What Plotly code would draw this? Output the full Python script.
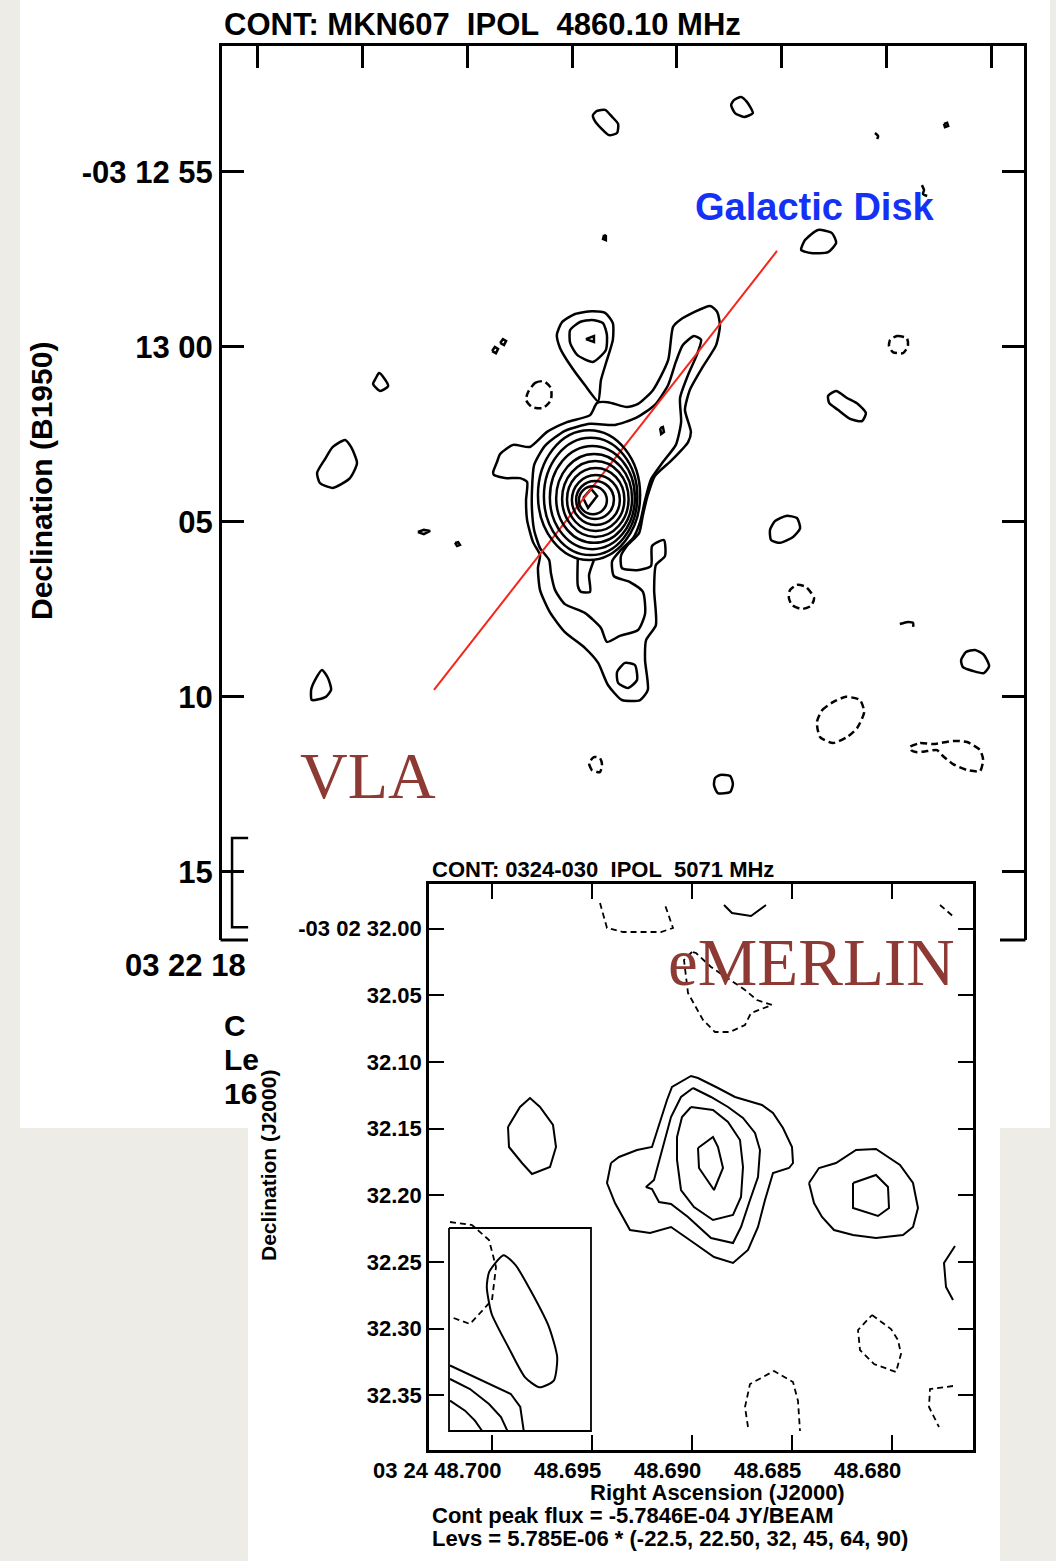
import plotly.graph_objects as go

W, H = 1056, 1561

# ================= Panel 1 : VLA MKN607 (offsets from core, arcsec; x = west, y = south) =================
vla_xticks = [-9.44, -6.447, -3.452, -0.457, 2.538, 5.533, 8.528, 11.523]
vla_yticks = [-9.29, -4.29, 0.71, 5.71, 10.71]
vla_yticktext = ["-03 12 55", "13 00", "05", "10", "15"]

# core rings (extent of each closed contour)
vla_ring_left = [-1.43, -1.26, -1.09, -0.91, -0.74, -0.60, -0.46, -0.34, -0.26]
vla_ring_right = [1.49, 1.41, 1.34, 1.26, 1.16, 1.04, 0.91, 0.74, 0.54]
vla_ring_top = [-1.91, -1.69, -1.46, -1.23, -1.03, -0.83, -0.63, -0.46, -0.31]
vla_ring_bottom = [1.80, 1.66, 1.49, 1.31, 1.14, 0.97, 0.80, 0.63, 0.49]

vla_main1_x = [-2.71, -2.60, -2.51, -2.14, -1.66, -1.17, -0.60, 0.06, 0.26, 0.57, 1.11, 1.43, 1.86, 2.29, 2.43, 2.63,
               3.49, 3.69, 3.77, 3.66, 3.26, 2.91, 2.77, 2.94, 2.86, 2.40, 1.91, 1.71, 1.57, 1.46, 1.11, 0.94, 0.97,
               1.40, 1.80, 1.83, 2.17, 2.20, 1.94, 1.89, 1.94, 1.66, 1.63, 1.71, 1.49, 0.97, 0.57, 0.29, -0.09, -0.66,
               -1.09, -1.37, -1.43, -1.37, -1.57, -1.74, -1.77, -1.74, -1.94, -2.37, -2.69]
vla_main1_y = [-0.71, -1.00, -1.23, -1.49, -1.43, -1.86, -2.14, -2.34, -2.69, -2.71, -2.57, -2.66, -3.06, -3.91, -4.86,
               -5.06, -5.46, -5.29, -4.91, -4.34, -3.69, -3.06, -2.49, -1.86, -1.57, -1.06, -0.60, -0.06, 0.51, 1.03,
               1.40, 1.69, 2.03, 2.09, 1.97, 1.40, 1.23, 1.69, 1.94, 2.66, 3.66, 4.09, 4.66, 5.51, 5.80, 5.80, 5.37,
               4.74, 4.31, 3.86, 3.29, 2.66, 2.03, 1.66, 1.29, 0.66, 0.09, -0.43, -0.54, -0.54, -0.63]

vla_main2_x = [-1.60, -1.54, -1.23, -0.66, 0.06, 0.77, 1.37, 1.91, 2.29, 2.51, 2.71, 3.03, 3.23, 3.11, 2.86, 2.63, 2.66,
               2.51, 2.14, 1.80, 1.63, 1.49, 1.29, 0.94, 0.69, 0.74, 1.20, 1.57, 1.63, 1.43, 0.91, 0.54, 0.37, -0.09,
               -0.66, -0.94, -1.06, -1.11, -1.37, -1.54, -1.60]
vla_main2_y = [-0.20, -0.91, -1.46, -1.89, -2.09, -2.06, -2.26, -2.63, -3.20, -3.86, -4.34, -4.60, -4.49, -4.06, -3.49,
               -2.83, -2.14, -1.49, -1.00, -0.51, 0.09, 0.71, 1.17, 1.51, 1.83, 2.26, 2.43, 2.71, 3.34, 3.80, 3.97,
               4.14, 3.74, 3.31, 3.06, 2.66, 2.17, 1.80, 1.46, 0.94, 0.37]

vla_peak_x = [-0.14, 0.09, 0.26, 0.00]
vla_peak_y = [0.03, -0.23, -0.03, 0.31]
vla_tongue_x = [-0.29, -0.29, -0.20, 0.06, 0.03, 0.17]
vla_tongue_y = [1.74, 2.54, 2.71, 2.71, 2.23, 1.80]
vla_south_x = [0.83, 1.06, 1.34, 1.40, 1.14, 0.86]
vla_south_y = [5.00, 4.74, 4.80, 5.23, 5.46, 5.31]

vla_north_outer_x = [0.29, -0.09, -0.51, -0.80, -0.89, -0.74, -0.37, 0.11, 0.49, 0.71, 0.71, 0.54, 0.37]
vla_north_outer_y = [-2.74, -3.20, -3.77, -4.26, -4.63, -5.00, -5.23, -5.31, -5.26, -4.97, -4.49, -3.91, -3.34]
vla_north_inner_x = [-0.51, -0.23, 0.11, 0.43, 0.54, 0.51, 0.14, -0.31, -0.51]
vla_north_inner_y = [-4.77, -5.00, -5.06, -4.97, -4.63, -4.20, -3.86, -4.06, -4.40]
vla_north_peak_x = [-0.06, 0.17, 0.17]
vla_north_peak_y = [-4.51, -4.60, -4.43]

# isolated positive contours
vla_blob_a_x = [0.14, 0.26, 0.49, 0.69, 0.86, 0.83, 0.60, 0.37, 0.20]
vla_blob_a_y = [-10.91, -11.03, -11.06, -10.86, -10.66, -10.40, -10.34, -10.54, -10.74]
vla_blob_b_x = [4.09, 4.17, 4.37, 4.54, 4.71, 4.46, 4.20]
vla_blob_b_y = [-11.20, -11.34, -11.43, -11.29, -10.97, -10.86, -10.97]
vla_dot_d_x = [10.17, 10.26, 10.29, 10.20]
vla_dot_d_y = [-10.66, -10.69, -10.60, -10.57]
vla_dot_f_x = [0.46, 0.51, 0.51, 0.43]
vla_dot_f_y = [-7.49, -7.46, -7.34, -7.37]
vla_blob_g_x = [6.09, 6.20, 6.57, 6.97, 7.09, 6.86, 6.37]
vla_blob_g_y = [-7.06, -7.34, -7.63, -7.54, -7.26, -7.00, -6.97]
vla_pair1_x = [-2.74, -2.66, -2.57, -2.63]
vla_pair1_y = [-4.17, -4.29, -4.23, -4.11]
vla_pair2_x = [-2.51, -2.43, -2.34, -2.40]
vla_pair2_y = [-4.40, -4.51, -4.46, -4.34]
vla_blob_k_x = [-5.97, -5.83, -5.71, -5.94, -6.14, -6.06]
vla_blob_k_y = [-3.54, -3.40, -3.17, -3.03, -3.23, -3.40]
vla_blob_m_x = [6.86, 7.09, 7.40, 7.71, 7.94, 7.83, 7.49, 7.14, 6.89]
vla_blob_m_y = [-2.89, -3.03, -2.83, -2.66, -2.40, -2.17, -2.23, -2.49, -2.69]
vla_blob_n_x = [-6.94, -6.77, -6.60, -6.80, -7.29, -7.66, -7.74, -7.51, -7.29]
vla_blob_n_y = [-1.63, -1.43, -0.97, -0.54, -0.26, -0.40, -0.69, -1.09, -1.43]
vla_dash_o_x = [-4.86, -4.69, -4.51, -4.69]
vla_dash_o_y = [1.00, 0.94, 0.97, 1.06]
vla_dot_p_x = [-3.80, -3.71, -3.66, -3.74]
vla_dot_p_y = [1.31, 1.29, 1.37, 1.40]
vla_dot_q_x = [2.06, 2.14, 2.17, 2.09]
vla_dot_q_y = [-1.97, -2.00, -1.86, -1.80]
vla_blob_r_x = [5.20, 5.34, 5.66, 5.97, 6.06, 5.86, 5.49, 5.23]
vla_blob_r_y = [0.94, 0.69, 0.54, 0.60, 0.89, 1.14, 1.31, 1.23]
vla_blob_u_x = [10.66, 10.80, 11.06, 11.31, 11.46, 11.31, 11.00, 10.71]
vla_blob_u_y = [4.66, 4.43, 4.37, 4.51, 4.83, 5.03, 4.97, 4.86]
vla_blob_v_x = [-7.91, -7.80, -7.60, -7.43, -7.34, -7.49, -7.89]
vla_blob_v_y = [5.51, 5.23, 4.94, 5.17, 5.51, 5.71, 5.80]
vla_blob_y_x = [3.63, 3.77, 4.06, 4.14, 4.06, 3.71, 3.60]
vla_blob_y_y = [8.03, 7.94, 7.97, 8.20, 8.43, 8.46, 8.23]
# open fragments
vla_mark_c_x = [8.20, 8.29, 8.26]
vla_mark_c_y = [-10.40, -10.31, -10.23]
vla_hook_e_x = [9.54, 9.60, 9.57, 9.69]
vla_hook_e_y = [-8.91, -8.77, -8.66, -8.60]
vla_hook_t_x = [8.91, 9.14, 9.29, 9.29]
vla_hook_t_y = [3.63, 3.57, 3.60, 3.71]
# negative contours (dashed)
vla_neg_j_x = [8.63, 8.83, 9.11, 9.14, 9.00, 8.71, 8.60]
vla_neg_j_y = [-4.49, -4.60, -4.54, -4.31, -4.11, -4.14, -4.31]
vla_neg_l_x = [-1.71, -1.51, -1.26, -1.06, -1.06, -1.29, -1.60, -1.77]
vla_neg_l_y = [-3.00, -3.26, -3.31, -3.11, -2.77, -2.54, -2.57, -2.77]
vla_neg_s_x = [5.77, 5.97, 6.23, 6.46, 6.37, 6.11, 5.83, 5.74]
vla_neg_s_y = [2.66, 2.51, 2.57, 2.89, 3.11, 3.20, 3.09, 2.89]
vla_neg_w_x = [6.54, 6.69, 7.00, 7.37, 7.77, 7.89, 7.69, 7.40, 7.00, 6.63]
vla_neg_w_y = [6.43, 6.09, 5.86, 5.71, 5.80, 6.14, 6.60, 6.86, 7.03, 6.86]
vla_neg_x_x = [0.34, 0.11, 0.03, 0.17, 0.34, 0.40]
vla_neg_x_y = [7.86, 7.80, 7.60, 7.43, 7.46, 7.66]
vla_neg_z_x = [9.20, 9.49, 9.86, 10.43, 10.83, 11.20, 11.29, 11.20, 10.83, 10.43, 10.11, 9.97, 9.69, 9.40, 9.23]
vla_neg_z_y = [7.14, 7.03, 7.06, 6.97, 7.00, 7.23, 7.51, 7.83, 7.80, 7.63, 7.37, 7.23, 7.26, 7.29, 7.23]

vla_beambox_x = [-9.71, -10.17, -10.17, -9.71]
vla_beambox_y = [9.74, 9.74, 12.29, 12.29]
vla_disk_x = [-4.40, 5.40]
vla_disk_y = [5.51, -7.03]

# ================= Panel 2 : eMERLIN 0324-030 (offsets in mas from RA 48.690 s / Dec 32.175") =================
em_xticks = [-149.8, -74.9, 0.0, 74.9, 149.8]
em_xticktext = ["03 24 48.700", "48.695", "48.690", "48.685", "48.680"]
em_yticks = [-175, -125, -75, -25, 25, 75, 125, 175]
em_yticktext = ["-03 02 32.00", "32.05", "32.10", "32.15", "32.20", "32.25", "32.30", "32.35"]

em_l1_x = [-60.75, -63.75, -57.75, -46.5, -31.5, -15.75, 1.5, 16.5, 30.75, 42, 49.5, 54.75, 60.75, 72.75, 75.75, 75,
           68.25, 60.75, 52.5, 32.25, 19.5, 4.5, -0.75, -15, -18.75, -30, -41.25, -54.75]
em_l1_y = [0.75, 15.75, 30.75, 51, 53.25, 48.75, 60.75, 71.25, 75.75, 66, 48.75, 28.5, 8.25, 4.5, 0.75, -11.25, -25.5,
           -36.75, -42.75, -48.75, -55.5, -63, -64.5, -56.25, -46.5, -11.25, -9, -3.75]
em_l2_x = [0.75, -8.25, -15.75, -24.75, -28.5, -34.5, -30, -24.75, -15.75, -3, 14.25, 30.75, 36.75, 43.5, 49.5, 51,
           47.25, 38.25, 27, 14.25]
em_l2_y = [-55.5, -48.75, -33.75, -1.5, 13.5, 18.75, 20.25, 30, 31.5, 41.25, 57, 60.75, 48.75, 28.5, 11.25, -9, -21.75,
           -33, -41.25, -48.75]
em_l3_x = [-0.75, -7.5, -11.25, -11.25, -8.25, 1.5, 15.75, 30.75, 36.75, 38.25, 36, 27, 15.75]
em_l3_y = [-41.25, -33.75, -18.75, -1.5, 21, 33.75, 43.5, 39.75, 26.25, 3.75, -16.5, -30, -39]
em_l4_x = [4.5, 15.75, 19.5, 23.25, 16.5, 5.25]
em_l4_y = [-10.5, -18.75, -11.25, 4.5, 21, 4.5]
em_r1_x = [87.75, 95.25, 108, 123, 138, 156, 165.75, 169.5, 165.75, 158.25, 138, 120.75, 106.5, 97.5, 91.5]
em_r1_y = [15.75, 4.5, 0.75, -9, -9.75, 2.25, 15.75, 34.5, 48.75, 54.75, 57, 54.75, 51, 41.25, 30.75]
em_r2_x = [120.75, 138, 147, 147.75, 139.5, 120.75]
em_r2_y = [15.75, 9.75, 18.75, 34.5, 40.5, 34.5]
em_w_x = [-138, -129, -121.5, -114, -104.25, -102, -106.5, -120, -127.5, -137.25]
em_w_y = [-26.25, -41.25, -48, -41.25, -27.75, -11.25, 3.75, 9, 0.75, -11.25]
em_pos_top_x = [24, 30, 44.25, 55.5]
em_pos_top_y = [-192.75, -186.75, -184.5, -192.75]
em_pos_right_x = [197.25, 189, 190.5, 195.75]
em_pos_right_y = [63, 75.75, 93.75, 103.5]
em_neg_top_x = [-69, -63.75, -51.75, -23.25, -14.25, -20.25]
em_neg_top_y = [-194.25, -175.5, -172.5, -172.5, -175.5, -192.75]
em_neg_tr_x = [186, 197.25]
em_neg_tr_y = [-192.75, -183]
em_neg_mid_x = [0, -6, -3, 8.25, 17.25, 28.5, 39.75, 44.25, 60, 48.75, 39.75, 25.5, 14.25, 3]
em_neg_mid_y = [-157.5, -151.5, -126.75, -106.5, -97.5, -97.5, -102.75, -111.75, -117.75, -121.5, -129, -138.75,
                -146.25, -156.75]
em_neg_dia_x = [135, 149.25, 154.5, 156.75, 153, 136.5, 126, 124.5]
em_neg_dia_y = [114.75, 125.25, 133.5, 144, 157.5, 151.5, 141, 126]
em_neg_arch_x = [42, 39.75, 43.5, 61.5, 75.75, 79.5, 81]
em_neg_arch_y = [198.75, 183.75, 166.5, 156.75, 165, 179.25, 201.75]
em_neg_br_x = [195.75, 178.5, 177.75, 185.25]
em_neg_br_y = [168, 170.25, 183.75, 198.75]
em_neg_beam_x = [-181.5, -165, -152.25, -147, -150, -166.5, -180.75]
em_neg_beam_y = [45, 47.25, 58.5, 78.75, 103.5, 121.5, 116.25]
em_beambox_x = [-182.25, -75.75, -75.75, -182.25]
em_beambox_y = [49.5, 49.5, 201.75, 201.75]
em_beam_x = [-141.3, -152.1, -153.9, -150.3, -137.7, -125.2, -114.4, -103.65, -101.1, -107.25, -119.8, -132.3]
em_beam_y = [69.9, 82.4, 93.75, 113.8, 138.9, 161.5, 169, 163.95, 146.4, 123.8, 98.7, 77.4]
em_box_a_x = [-181.5, -162.75, -146.7, -135.9, -128.8, -126.2]
em_box_a_y = [152.6, 161.25, 168.75, 174, 183.75, 201.6]
em_box_b_x = [-181.5, -166.5, -152.25, -143.25, -138.45]
em_box_b_y = [162.75, 170.25, 181.5, 191.25, 201.6]
em_box_c_x = [-181.5, -170.25, -162.8, -157.5]
em_box_c_y = [179, 186.5, 194, 201.6]

# ============================ figure ============================
fig = go.Figure()
DASH1 = "7px,4px"
DASH2 = "6px,4px"


def draw(xs, ys, panel, dash=False, closed=True, width=2.5, smooth=True, color="black"):
    xs, ys = list(xs), list(ys)
    if closed:
        xs.append(xs[0])
        ys.append(ys[0])
    ax = ("x", "y") if panel == 1 else ("x2", "y2")
    fig.add_trace(go.Scatter(
        x=xs, y=ys, mode="lines", xaxis=ax[0], yaxis=ax[1], hoverinfo="skip", showlegend=False,
        line=dict(color=color, width=width,
                  dash=(DASH1 if panel == 1 else DASH2) if dash else "solid",
                  shape="spline" if smooth else "linear", smoothing=0.6)))


# panel 1 contours
for cx, cy in [(vla_main1_x, vla_main1_y), (vla_main2_x, vla_main2_y), (vla_south_x, vla_south_y),
               (vla_north_outer_x, vla_north_outer_y), (vla_north_inner_x, vla_north_inner_y),
               (vla_blob_a_x, vla_blob_a_y), (vla_blob_b_x, vla_blob_b_y), (vla_blob_g_x, vla_blob_g_y),
               (vla_blob_k_x, vla_blob_k_y), (vla_blob_m_x, vla_blob_m_y), (vla_blob_n_x, vla_blob_n_y),
               (vla_blob_r_x, vla_blob_r_y), (vla_blob_u_x, vla_blob_u_y), (vla_blob_v_x, vla_blob_v_y),
               (vla_blob_y_x, vla_blob_y_y)]:
    draw(cx, cy, 1)
for cx, cy in [(vla_peak_x, vla_peak_y), (vla_north_peak_x, vla_north_peak_y), (vla_dot_d_x, vla_dot_d_y),
               (vla_dot_f_x, vla_dot_f_y), (vla_pair1_x, vla_pair1_y), (vla_pair2_x, vla_pair2_y),
               (vla_dash_o_x, vla_dash_o_y), (vla_dot_p_x, vla_dot_p_y), (vla_dot_q_x, vla_dot_q_y)]:
    draw(cx, cy, 1, smooth=False)
for cx, cy in [(vla_tongue_x, vla_tongue_y), (vla_mark_c_x, vla_mark_c_y), (vla_hook_e_x, vla_hook_e_y),
               (vla_hook_t_x, vla_hook_t_y)]:
    draw(cx, cy, 1, closed=False)
for cx, cy in [(vla_neg_j_x, vla_neg_j_y), (vla_neg_l_x, vla_neg_l_y), (vla_neg_s_x, vla_neg_s_y),
               (vla_neg_w_x, vla_neg_w_y), (vla_neg_x_x, vla_neg_x_y), (vla_neg_z_x, vla_neg_z_y)]:
    draw(cx, cy, 1, dash=True)
draw(vla_beambox_x, vla_beambox_y, 1, closed=False, smooth=False, width=2.5)
draw(vla_disk_x, vla_disk_y, 1, closed=False, smooth=False, width=2, color="#f4261b")

# panel 2 contours
for cx, cy in [(em_l1_x, em_l1_y), (em_l2_x, em_l2_y), (em_l3_x, em_l3_y), (em_l4_x, em_l4_y),
               (em_r1_x, em_r1_y), (em_r2_x, em_r2_y), (em_w_x, em_w_y)]:
    draw(cx, cy, 2, width=2, smooth=False)
for cx, cy in [(em_pos_top_x, em_pos_top_y), (em_pos_right_x, em_pos_right_y)]:
    draw(cx, cy, 2, closed=False, width=2, smooth=False)
for cx, cy in [(em_neg_mid_x, em_neg_mid_y), (em_neg_dia_x, em_neg_dia_y)]:
    draw(cx, cy, 2, dash=True, width=1.8, smooth=False)
for cx, cy in [(em_neg_top_x, em_neg_top_y), (em_neg_tr_x, em_neg_tr_y), (em_neg_arch_x, em_neg_arch_y),
               (em_neg_br_x, em_neg_br_y), (em_neg_beam_x, em_neg_beam_y)]:
    draw(cx, cy, 2, dash=True, closed=False, width=1.8, smooth=False)
draw(em_beambox_x, em_beambox_y, 2, width=1.8, smooth=False)
draw(em_beam_x, em_beam_y, 2, width=2)
for cx, cy in [(em_box_a_x, em_box_a_y), (em_box_b_x, em_box_b_y), (em_box_c_x, em_box_c_y)]:
    draw(cx, cy, 2, closed=False, width=2, smooth=False)

shapes = [
    dict(type="rect", xref="paper", yref="paper", x0=20 / W, x1=1050 / W, y0=1 - 1128 / H, y1=1,
         fillcolor="white", line=dict(width=0), layer="below"),
    dict(type="rect", xref="paper", yref="paper", x0=248 / W, x1=1000 / W, y0=0, y1=1 - 845 / H,
         fillcolor="white", line=dict(width=0), layer="below"),
    dict(type="line", xref="paper", yref="paper", x0=220.5 / W, x1=248 / W, y0=1 - 940 / H, y1=1 - 940 / H,
         line=dict(color="black", width=3)),
    dict(type="line", xref="paper", yref="paper", x0=1000 / W, x1=1025.5 / W, y0=1 - 940 / H, y1=1 - 940 / H,
         line=dict(color="black", width=3)),
]
for l, r, t, b in zip(vla_ring_left, vla_ring_right, vla_ring_top, vla_ring_bottom):
    shapes.append(dict(type="circle", xref="x", yref="y", x0=l, x1=r, y0=t, y1=b,
                       line=dict(color="black", width=2.5)))

SANS = "Liberation Sans"
SERIF = "Liberation Serif"


def txt(text, x, y, size, xanchor="left", color="black", family=SANS, weight="bold", angle=0,
        xref="paper", xshift=0):
    return dict(text=text, x=x if xref != "paper" else x / W, y=1 - y / H, xref=xref, yref="paper",
                xanchor=xanchor, yanchor="middle", showarrow=False, textangle=angle, xshift=xshift,
                font=dict(family=family, size=size, color=color, weight=weight))


ann = [
    txt("CONT: MKN607\u00a0\u00a0IPOL\u00a0\u00a04860.10 MHz", 222, 24, 31),
    txt("Declination (B1950)", 42, 481, 30, xanchor="center", angle=-90),
    txt("Galactic Disk", 815, 207, 38, xanchor="center", color="#1432f5"),
    txt("VLA", 298, 775, 66, family=SERIF, weight="normal", color="#8c3a33"),
    txt("03 22 18", 248, 965, 31, xanchor="right"),
    txt("C", 222, 1025, 30),
    txt("Le", 222, 1059, 30),
    txt("16", 222, 1093, 30),
    txt("CONT: 0324-030\u00a0\u00a0IPOL\u00a0\u00a05071 MHz", 430, 869, 22),
    txt("eMERLIN", 666, 962, 67, family=SERIF, weight="normal", color="#8c3a33"),
    txt("Right Ascension (J2000)", 717, 1492, 22, xanchor="center"),
    txt("Cont peak flux = -5.7846E-04 JY/BEAM", 430, 1515, 22),
    txt("Levs = 5.785E-06 * (-22.5, 22.50, 32, 45, 64, 90)", 430, 1538, 22),
    txt("Declination (J2000)", 268, 1166, 21, xanchor="center", angle=-90),
]
for v, t in zip(em_xticks, em_xticktext):
    ann.append(txt(t, v, 1470, 22, xanchor="right", xref="x2", xshift=11))

axis_common = dict(showgrid=False, zeroline=False, showline=True, linecolor="black", tickcolor="black",
                   ticks="inside")
fig.update_layout(
    width=W, height=H, autosize=False, margin=dict(l=0, r=0, t=0, b=0),
    paper_bgcolor="#eeece7", plot_bgcolor="rgba(0,0,0,0)", showlegend=False,
    xaxis=dict(axis_common, domain=[222 / W, 1024 / W], range=[-10.457, 12.457], anchor="y", side="top",
               tickvals=vla_xticks, ticklen=22, tickwidth=3, linewidth=3, showticklabels=False),
    yaxis=dict(axis_common, domain=[1 - 940 / H, 1 - 46 / H], range=[12.657, -12.886], anchor="x",
               tickvals=vla_yticks, ticktext=vla_yticktext, ticklen=22, tickwidth=3, linewidth=3, mirror="ticks",
               tickfont=dict(family=SANS, size=31, color="black", weight="bold"), ticklabelstandoff=0),
    xaxis2=dict(axis_common, domain=[429 / W, 973 / W], range=[-197.25, 210.75], anchor="y2",
                tickvals=em_xticks, ticklen=15, tickwidth=2, linewidth=2.5, mirror="ticks", showticklabels=False),
    yaxis2=dict(axis_common, domain=[1 - 1450 / H, 1 - 884 / H], range=[216, -208.5], anchor="x2",
                tickvals=em_yticks, ticktext=em_yticktext, ticklen=15, tickwidth=2, linewidth=2.5, mirror="ticks",
                tickfont=dict(family=SANS, size=22, color="black", weight="bold"), ticklabelstandoff=0),
    shapes=shapes, annotations=ann,
)

fig.write_html("out.html")
